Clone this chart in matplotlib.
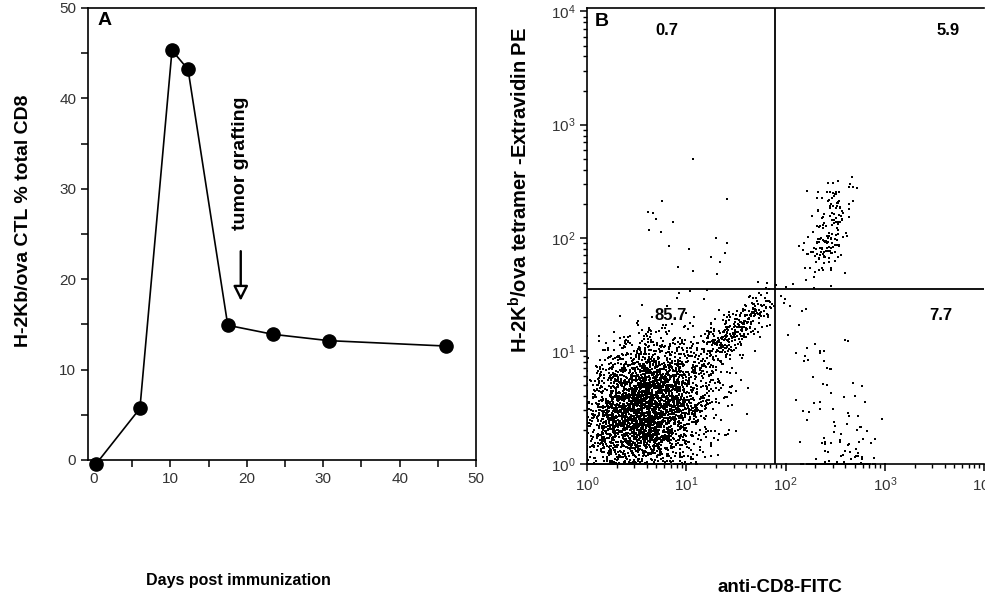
import numpy as np
import matplotlib.pyplot as plt
from matplotlib.ticker import MultipleLocator, LogLocator, NullFormatter

plt.rcParams['font.family'] = ['Liberation Sans', 'DejaVu Sans']
plt.rcParams['mathtext.default'] = 'regular'

# Panel A: tetramer+ CTL kinetics
days = [0.3, 6.0, 10.2, 12.3, 17.5, 23.4, 30.7, 46.1]
ctl_pct = [-0.4, 5.7, 45.3, 43.2, 14.9, 13.9, 13.2, 12.6]
graft_day = 19.2

# Panel B: flow cytometry quadrants
x_gate = 79
y_gate = 35
quad_pct = ['0.7', '5.9', '85.7', '7.7']   # UL, UR, LL, LR

# event populations (log10 centre x, log10 centre y, sd x, sd y, corr, count)
pop_cx = [0.60, 1.50, 2.44, 2.55, 2.2, 0.9]
pop_cy = [0.50, 1.20, 2.06, -0.2, 0.8, 2.0]
pop_sx = [0.32, 0.22, 0.13, 0.18, 0.2, 0.35]
pop_sy = [0.30, 0.18, 0.24, 0.40, 0.4, 0.35]
pop_rho = [0.25, 0.80, 0.5, 0.0, 0.0, 0.0]
pop_n = [3400, 330, 170, 200, 25, 22]

rng = np.random.default_rng(7)
ev_x, ev_y = [], []
for cx, cy, sx, sy, r, n in zip(pop_cx, pop_cy, pop_sx, pop_sy, pop_rho, pop_n):
    z1 = rng.standard_normal(n)
    z2 = r * z1 + np.sqrt(1 - r ** 2) * rng.standard_normal(n)
    lx = np.clip(cx + sx * z1, 0, 3.95)
    ly = np.clip(cy + sy * z2, 0, 3.95)
    ev_x.append(10 ** lx)
    ev_y.append(10 ** ly)
ev_x = np.concatenate(ev_x)
ev_y = np.concatenate(ev_y)

fig = plt.figure(figsize=(9.85, 5.98), dpi=100)
tick_col = '#333333'

# ---- panel A
axA = fig.add_axes([0.0893, 0.2308, 0.394, 0.756])
axA.plot(days, ctl_pct, color='black', lw=1.2, marker='o', markersize=9.5,
         markerfacecolor='black', clip_on=False, zorder=3)
axA.set_xlim(-0.8, 50)
axA.set_ylim(0, 50)
axA.xaxis.set_major_locator(MultipleLocator(10))
axA.xaxis.set_minor_locator(MultipleLocator(5))
axA.yaxis.set_major_locator(MultipleLocator(10))
axA.yaxis.set_minor_locator(MultipleLocator(5))
axA.tick_params(which='both', direction='out', length=5, width=1.1,
                labelsize=11, labelcolor=tick_col)
for s in axA.spines.values():
    s.set_linewidth(1.2)
axA.annotate('', xy=(graft_day, 17.3), xytext=(graft_day, 23.4),
             arrowprops=dict(arrowstyle='-|>', fc='white', ec='black', lw=1.7,
                             mutation_scale=22))
axA.text(graft_day, 32.8, 'tumor grafting', rotation=90, ha='center', va='center',
         fontsize=14, fontweight='bold')
axA.text(0.025, 0.99, 'A', transform=axA.transAxes, ha='left', va='top',
         fontsize=14, fontweight='bold')
axA.set_ylabel('H-2Kb/ova CTL % total CD8', fontsize=14, fontweight='bold')
axA.yaxis.set_label_coords(-0.145, 0.53)
fig.text(0.242, 0.03, 'Days post immunization', ha='center', va='center',
         fontsize=11.5, fontweight='bold')

# ---- panel B
axB = fig.add_axes([0.596, 0.224, 0.403, 0.7625])
axB.scatter(ev_x, ev_y, s=2.4, c='black', marker='s', linewidths=0)
axB.set_xscale('log')
axB.set_yscale('log')
axB.set_xlim(1, 1e4)
axB.set_ylim(1, 10 ** 4.03)
axB.axvline(x_gate, color='black', lw=1.3)
axB.axhline(y_gate, color='black', lw=1.3)
axB.xaxis.set_minor_locator(LogLocator(base=10, subs=np.arange(2, 10)))
axB.yaxis.set_minor_locator(LogLocator(base=10, subs=np.arange(2, 10)))
axB.xaxis.set_minor_formatter(NullFormatter())
axB.yaxis.set_minor_formatter(NullFormatter())
axB.tick_params(which='major', direction='out', length=5, width=1.1,
                labelsize=11, labelcolor=tick_col)
axB.tick_params(which='minor', direction='out', length=3, width=1.0)
axB.spines['right'].set_visible(False)
for s in ['left', 'top', 'bottom']:
    axB.spines[s].set_linewidth(1.2)
qx = [0.2, 0.91, 0.21, 0.89]
qy = [0.95, 0.95, 0.325, 0.325]
for t, x, y in zip(quad_pct, qx, qy):
    axB.text(x, y, t, transform=axB.transAxes, ha='center', va='center',
             fontsize=12, fontweight='bold')
axB.text(0.02, 0.99, 'B', transform=axB.transAxes, ha='left', va='top',
         fontsize=14, fontweight='bold')
axB.set_ylabel('H-2K$^{b}$/ova tetramer -Extravidin PE', fontsize=14.5,
               fontweight='bold')
axB.yaxis.set_label_coords(-0.14, 0.60)
fig.text(0.792, 0.017, 'anti-CD8-FITC', ha='center', va='center',
         fontsize=13.5, fontweight='bold')

fig.savefig('out.png', dpi=100)
